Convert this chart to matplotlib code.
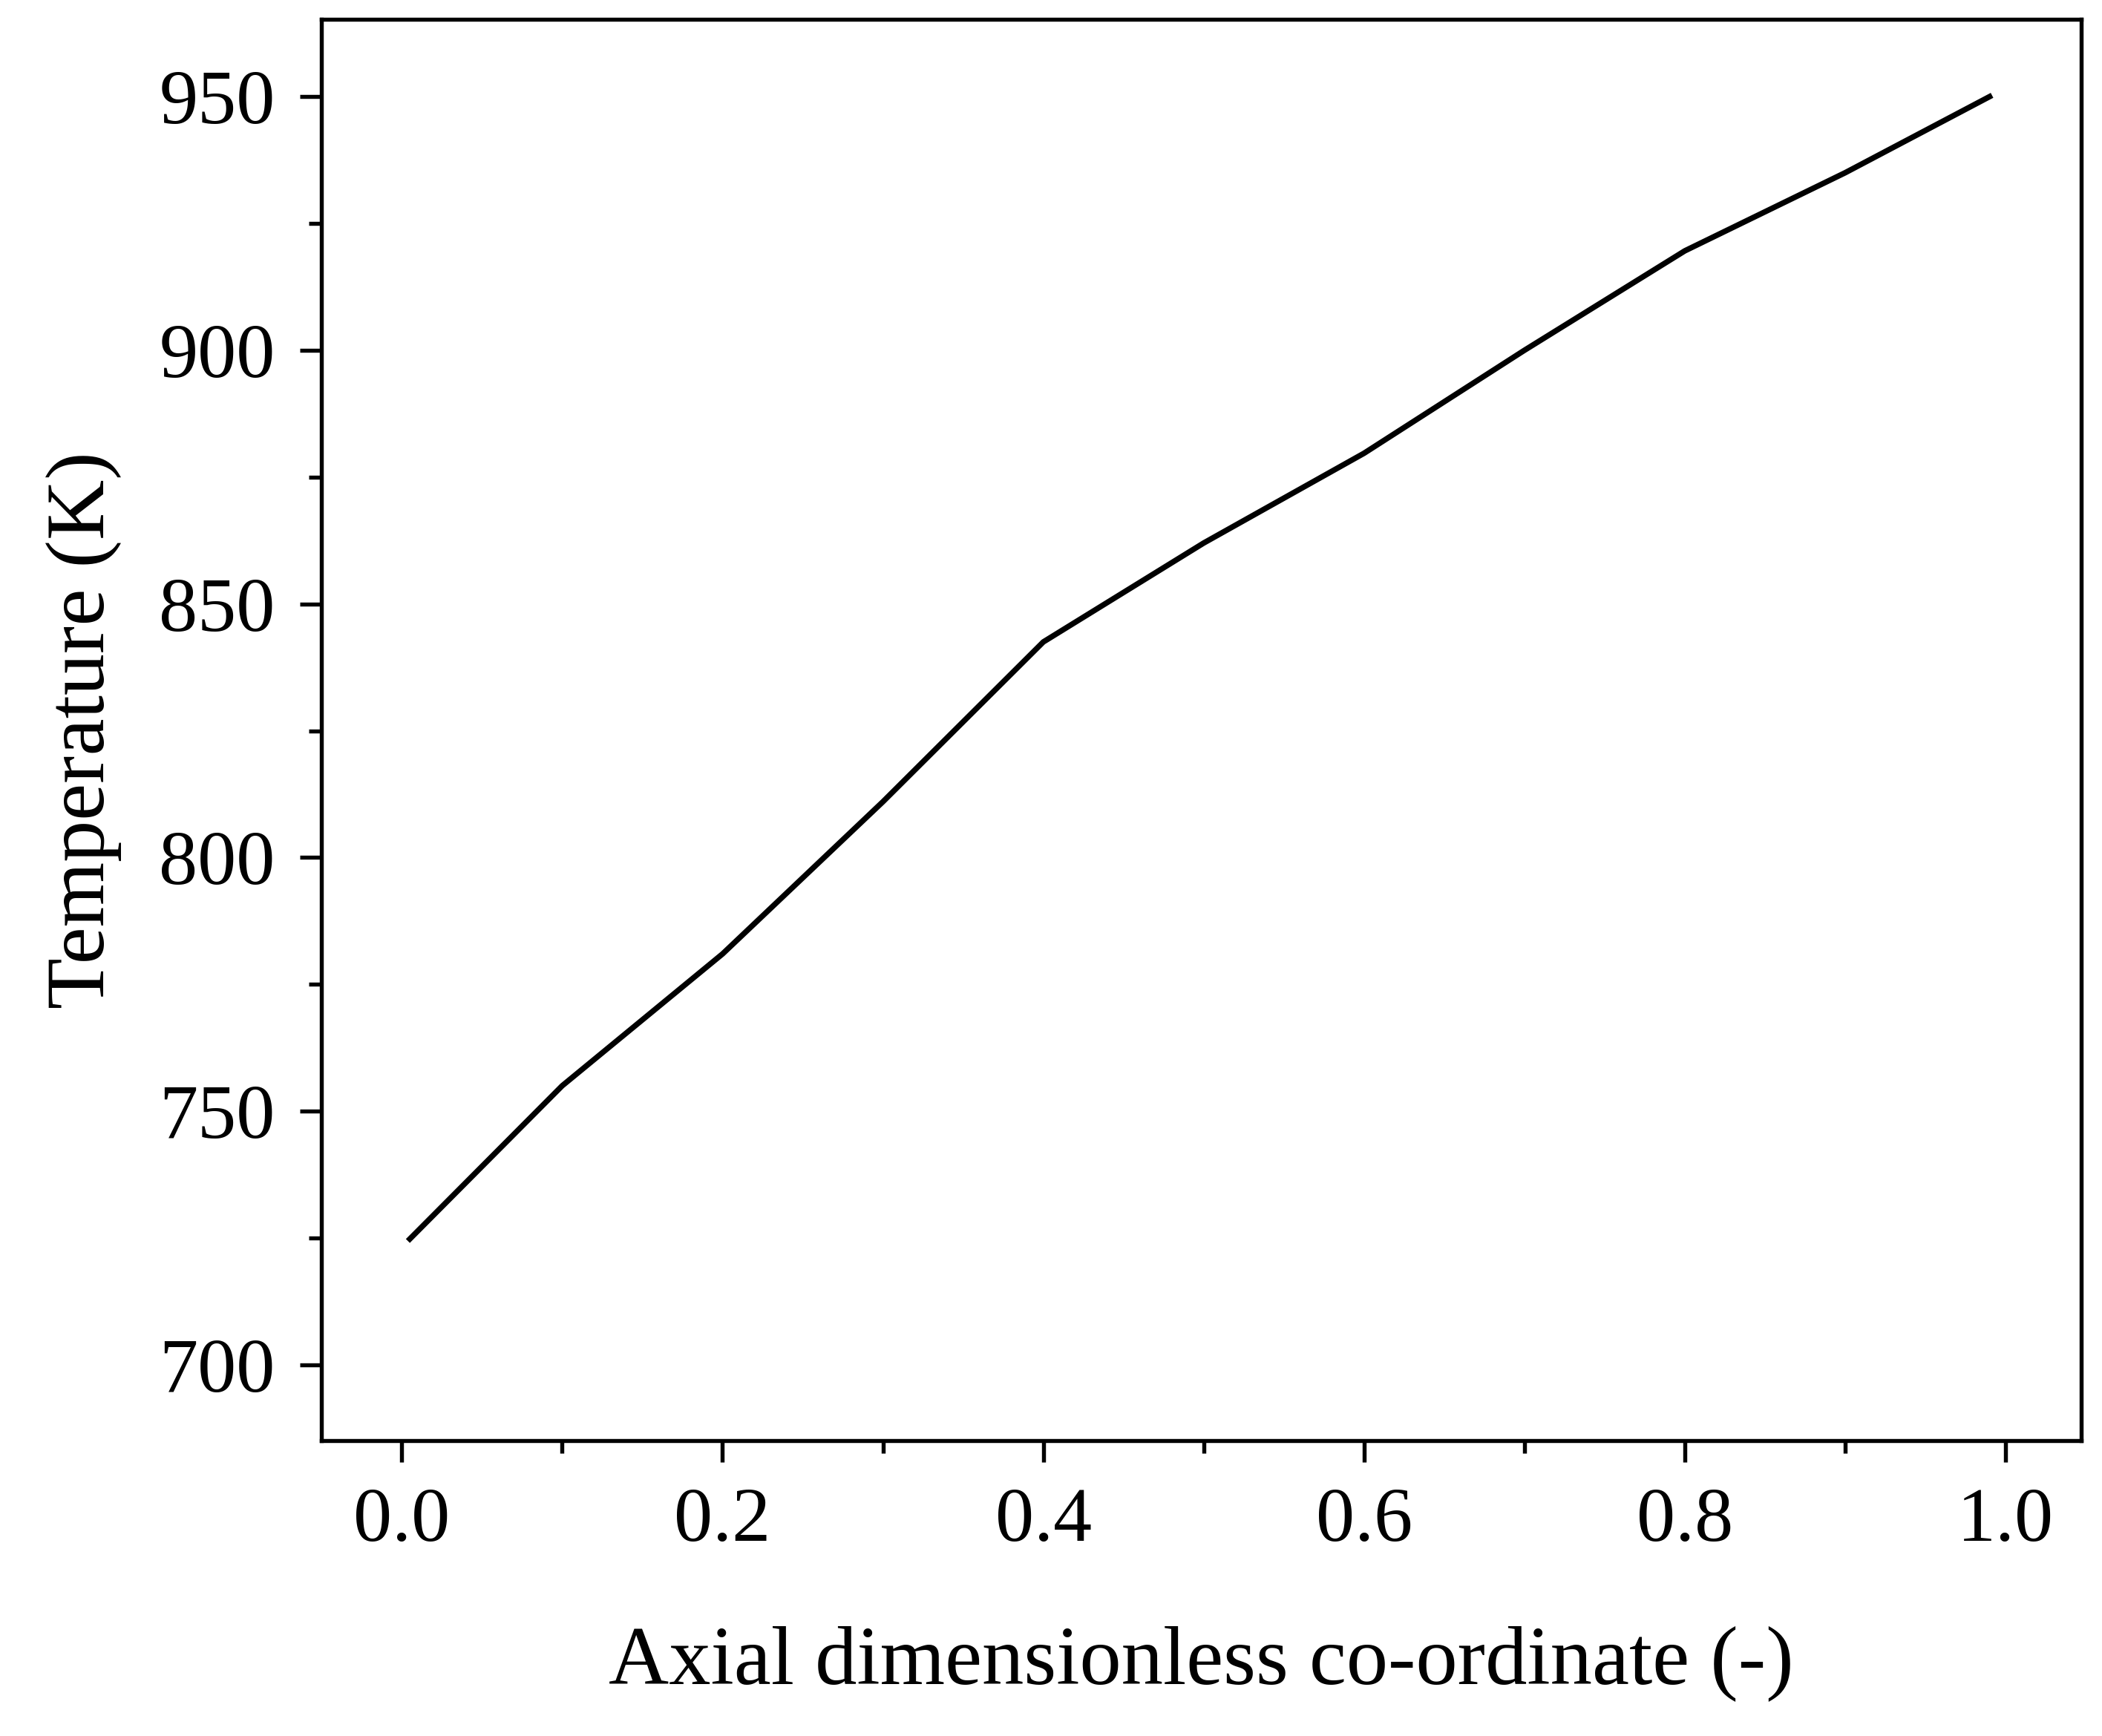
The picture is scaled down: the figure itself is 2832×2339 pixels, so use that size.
import matplotlib.pyplot as plt
from matplotlib.ticker import MultipleLocator

# Values
axial = [0.005, 0.1, 0.2, 0.3, 0.4, 0.5, 0.6, 0.7, 0.8, 0.9, 0.99]
temperature = [724.8, 755.0, 781.0, 811.0, 842.5, 862.0, 879.7, 900.0, 919.6, 935.0, 950.0]

plt.rcParams['font.family'] = ['Liberation Serif', 'DejaVu Serif']

fig = plt.figure(figsize=(9.44, 7.797), dpi=300)
ax = fig.add_axes([0.153, 0.170, 0.837, 0.819])
ax.plot(axial, temperature, color='black', linewidth=1.8)

ax.set_xlim(-0.05, 1.047)
ax.set_ylim(685, 965.3)
ax.xaxis.set_major_locator(MultipleLocator(0.2))
ax.xaxis.set_minor_locator(MultipleLocator(0.1))
ax.yaxis.set_major_locator(MultipleLocator(50))
ax.yaxis.set_minor_locator(MultipleLocator(25))
ax.xaxis.set_major_formatter(plt.FormatStrFormatter('%.1f'))
ax.tick_params(which='both', direction='out', width=1.3, labelsize=25, pad=8)
ax.tick_params(which='major', length=7)
ax.tick_params(which='minor', length=4)
for s in ax.spines.values():
    s.set_linewidth(1.3)

ax.set_xlabel('Axial dimensionless co-ordinate (-)', fontsize=27, labelpad=22)
ax.set_ylabel('Temperature (K)', fontsize=27, labelpad=12)

fig.savefig('out.png', dpi=300)
